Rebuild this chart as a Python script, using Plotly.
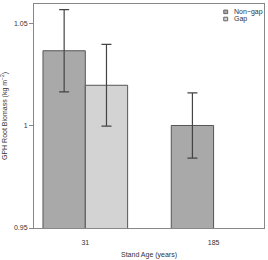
import plotly.graph_objects as go

ages = ["31", "185"]
nongap_vals = [1.0368, 1.0002]
nongap_err = [0.0201, 0.0160]
gap_vals = [1.0199, None]
gap_err = [0.0200, None]
yticks = [0.95, 1.0, 1.05]
yticklabels = ["0.95", "1", "1.05"]
legend_names = ["Non\u2212gap", "Gap"]
colors = ["#A9A9A9", "#D3D3D3"]

TXT = "#333333"
font = dict(family="Liberation Sans, Arial, sans-serif", size=7, color=TXT)

fig = go.Figure()
fig.add_trace(go.Bar(
    x=ages, y=nongap_vals, name=legend_names[0],
    marker=dict(color=colors[0], line=dict(color="#555555", width=1)),
    error_y=dict(type="data", array=nongap_err, color="#444444", thickness=1.2, width=5),
))
fig.add_trace(go.Bar(
    x=ages, y=gap_vals, name=legend_names[1],
    marker=dict(color=colors[1], line=dict(color="#555555", width=1)),
    error_y=dict(type="data", array=gap_err, color="#444444", thickness=1.2, width=5),
))

# compact legend (R-style) drawn as small squares + text
leg_y = [0.965, 0.933]
for name, col, yy in zip(legend_names, colors, leg_y):
    fig.add_shape(type="rect", xref="paper", yref="paper",
                  x0=0.825, x1=0.842, y0=yy - 0.008, y1=yy + 0.008,
                  fillcolor=col, line=dict(color="#666666", width=1))
    fig.add_annotation(xref="paper", yref="paper", x=0.862, y=yy, text=name,
                       showarrow=False, xanchor="left", yanchor="middle",
                       font=dict(family=font["family"], size=7, color=TXT))

fig.update_layout(
    width=268, height=260,
    margin=dict(l=31, r=4, t=3, b=31),
    paper_bgcolor="white", plot_bgcolor="white",
    barmode="group", bargap=0.34, bargroupgap=0,
    font=font, showlegend=False,
    xaxis=dict(type="category", range=[-0.4, 1.393], showgrid=False,
               showline=True, mirror=True, linecolor="#888888", linewidth=1,
               ticks="", tickfont=dict(size=7, color=TXT), ticklabelstandoff=8,
               title=dict(text="Stand Age (years)", font=dict(size=7, color=TXT), standoff=6)),
    yaxis=dict(range=[0.95, 1.0597], showgrid=False, zeroline=False,
               showline=True, mirror=True, linecolor="#888888", linewidth=1,
               tickvals=yticks, ticktext=yticklabels, ticks="outside",
               ticklen=4, tickcolor="#888888", tickfont=dict(size=7, color=TXT),
               title=dict(text="GPH Root Biomass (kg m<sup>\u22122</sup>)", font=dict(size=7, color=TXT), standoff=6)),
)
fig.write_html("out.html")
